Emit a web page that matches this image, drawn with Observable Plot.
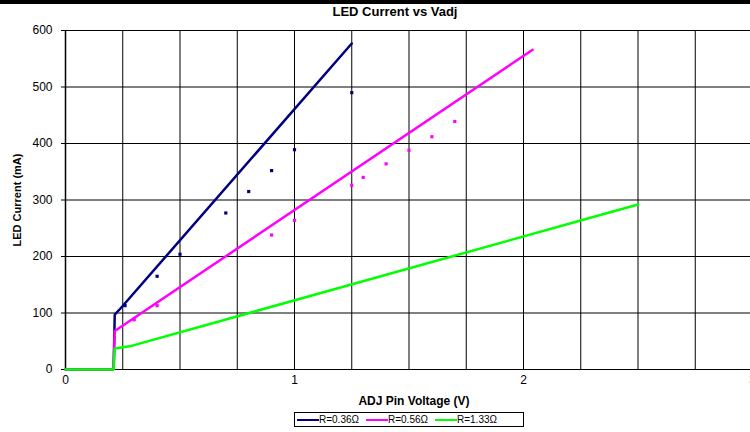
<!DOCTYPE html>
<html>
<head>
<meta charset="utf-8">
<script src="https://cdn.jsdelivr.net/npm/d3@7"></script>
<script src="https://cdn.jsdelivr.net/npm/@observablehq/plot@0.6"></script>
<style>
  html, body { margin: 0; padding: 0; background: #fff; width: 750px; height: 432px; overflow: hidden; font-family: "Liberation Sans", Arial, sans-serif; }
  #bar { position: absolute; left: 0; top: 0; width: 750px; height: 4px; background: #000; }
  #title { position: absolute; left: 0; top: 4px; width: 790px; text-align: center; font-weight: bold; font-size: 13px; line-height: 16px; }
  #chart { position: absolute; left: 0; top: 20px; }
  #ylabel { position: absolute; left: 17px; top: 200px; transform: translate(-50%, -50%) rotate(-90deg); font-weight: bold; font-size: 11px; white-space: nowrap; }
  #xlabel { position: absolute; left: 414px; top: 394px; transform: translateX(-50%); font-weight: bold; font-size: 12px; white-space: nowrap; }
  #legend { position: absolute; left: 294px; top: 412px; width: 230px; height: 15px; border: 1px solid #000; box-sizing: border-box; display: flex; align-items: center; font-size: 10px; }
  .item { display: flex; align-items: center; margin-right: 5px; }
  .sw { display: inline-block; width: 22px; height: 2px; margin-left: 2px; }
</style>
</head>
<body>
<div id="bar"></div>
<div id="title">LED Current vs Vadj</div>
<div id="chart"></div>
<div id="ylabel">LED Current (mA)</div>
<div id="xlabel">ADJ Pin Voltage (V)</div>
<div id="legend"></div>
<script>
// Series names and colours
const seriesNames = ["R=0.36Ω", "R=0.56Ω", "R=1.33Ω"];
const seriesColors = ["#000080", "#FF00FF", "#00FF00"];

// Fitted/trend lines (ADJ voltage V, LED current mA)
const blueLineV = [0, 0.21, 0.215, 0.24, 1.25];
const blueLineI = [0, 0, 97, 108, 577];
const pinkLineV = [0, 0.21, 0.215, 2.04];
const pinkLineI = [0, 0, 68, 566];
const greenLineV = [0, 0.21, 0.215, 0.28, 2.5];
const greenLineI = [0, 0, 37, 41, 292];

// Measured points
const bluePtV = [0.26, 0.40, 0.50, 0.70, 0.80, 0.90, 1.00, 1.25];
const bluePtI = [113, 165, 204, 277, 315, 352, 389, 490];
const pinkPtV = [0.30, 0.40, 0.90, 1.00, 1.25, 1.30, 1.40, 1.50, 1.60, 1.70];
const pinkPtI = [88, 113, 238, 264, 326, 340, 364, 388, 412, 439];

// Axes
const xTicks = [0, 1, 2, 3];
const xTickLabels = ["0", "1", "2", "3"];
const xGrid = [0.25, 0.5, 0.75, 1, 1.25, 1.5, 1.75, 2, 2.25, 2.5, 2.75, 3];
const yTicks = [0, 100, 200, 300, 400, 500, 600];

const toRows = (vs, is, s) => vs.map((v, k) => ({v, i: is[k], s}));
const lines = [
  ...toRows(blueLineV, blueLineI, seriesNames[0]),
  ...toRows(pinkLineV, pinkLineI, seriesNames[1]),
  ...toRows(greenLineV, greenLineI, seriesNames[2])
];
const pts = [
  ...toRows(bluePtV, bluePtI, seriesNames[0]),
  ...toRows(pinkPtV, pinkPtI, seriesNames[1])
];

const chart = Plot.plot({
  width: 750,
  height: 388,
  marginLeft: 65,
  marginRight: 0,
  marginTop: 10,
  marginBottom: 39,
  style: { fontFamily: "Liberation Sans, Arial, sans-serif", fontSize: "12px", background: "#fff", overflow: "visible" },
  x: { domain: [0, 3], range: [65, 752] },
  y: { domain: [0, 600], range: [349, 10] },
  color: { domain: seriesNames, range: seriesColors },
  marks: [
    Plot.ruleX(xGrid, { y1: 0, y2: 600, stroke: "#000", strokeWidth: 1 }),
    Plot.ruleY(yTicks, { x1: 0, x2: 3, stroke: "#000", strokeWidth: 1 }),
    Plot.ruleX([0], { y1: 0, y2: 600, stroke: "#000", strokeWidth: 1.5 }),
    Plot.axisY({ ticks: yTicks, tickSize: 4, tickPadding: 9, label: null, fontSize: 12 }),
    Plot.axisX({ ticks: xTicks, tickFormat: (d) => xTickLabels[xTicks.indexOf(d)], tickSize: 0, tickPadding: 6, label: null, fontSize: 12 }),
    Plot.dot(pts, { x: "v", y: "i", fill: "s", symbol: "square", r: 1.8, stroke: "none" }),
    Plot.line(lines, { x: "v", y: "i", z: "s", stroke: "s", strokeWidth: 2.5, strokeLinejoin: "miter" })
  ]
});
document.getElementById("chart").appendChild(chart);

const lg = document.getElementById("legend");
seriesNames.forEach((n, k) => {
  const it = document.createElement("span");
  it.className = "item";
  it.innerHTML = `<span class="sw" style="background:${seriesColors[k]}"></span><span>${n}</span>`;
  lg.appendChild(it);
});
</script>
</body>
</html>
